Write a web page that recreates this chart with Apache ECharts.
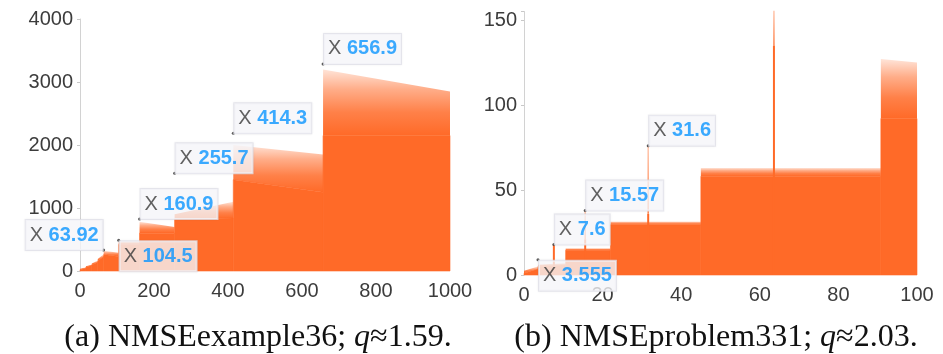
<!DOCTYPE html>
<html>
<head>
<meta charset="utf-8">
<script src="https://cdn.jsdelivr.net/npm/echarts@6/dist/echarts.min.js"></script>
<style>
html,body{margin:0;padding:0;background:#fff;}
#c{width:943px;height:354px;}
</style>
</head>
<body>
<div id="c"></div>
<script>
// ---- data ----
// segments: [xStart, xEnd, denseTopStart, denseTopEnd, sparseTopStart, sparseTopEnd]
const segA = [
  [0, 16, 20, 45, 35, 60],
  [16, 32, 60, 90, 75, 105],
  [32, 48, 100, 140, 120, 165],
  [48, 64, 160, 230, 190, 265],
  [64, 104.5, 260, 230, 320, 290],
  [104.5, 160.9, 420, 420, 470, 470],
  [160.9, 255.7, 600, 600, 780, 700],
  [255.7, 414.3, 830, 840, 900, 1100],
  [414.3, 656.9, 1450, 1250, 2000, 1850],
  [656.9, 1000, 2150, 2150, 3200, 2850]
];
const segB = [
  [0, 3.555, 1, 3.5, 2.5, 5],
  [3.555, 10.6, 5, 6, 6, 7],
  [10.6, 22, 14.5, 14.5, 15.8, 15.8],
  [22, 45, 29.5, 29.5, 31.5, 31.5],
  [45, 90.8, 58, 58, 63, 63],
  [90.8, 100, 92, 92, 127, 125]
];
// spikes: [x, denseTop, maxTop]
const spikesB = [
  [7.6, 18, 18],
  [15.57, 21, 38],
  [31.6, 36, 76],
  [63.6, 135, 155.5]
];
// data tips: x value, y value
const tipsAX = [63.92, 104.5, 160.9, 255.7, 414.3, 656.9];
const tipsAY = [333, 490, 825, 1550, 2185, 3286];
const tipsBX = [3.555, 7.6, 15.57, 31.6, 63.6];
const tipsBY = [8.9, 18, 38, 76, 155.5];
const tipsASide = ['ul', 'dr', 'ur', 'ur', 'ur', 'ur'];
const tipsBSide = ['dr', 'ur', 'ur', 'ur', 'dr'];
const xTicksA = [0, 1000, 200];
const yTicksA = [0, 4000, 1000];
const xTicksB = [0, 100, 20];
const yTicksB = [0, 155, 50];
const captions = ['(a) NMSEexample36; {i|q}≈1.59.', '(b) NMSEproblem331; {i|q}≈2.03.'];

// ---- styling ----
const ORANGE = '#ff6a28';
const chart = echarts.init(document.getElementById('c'), null, {renderer: 'canvas'});

function fringeFill() {
  return new echarts.graphic.LinearGradient(0, 0, 0, 1, [
    {offset: 0, color: 'rgba(255,106,40,0.18)'},
    {offset: 0.3, color: 'rgba(255,106,40,0.55)'},
    {offset: 0.65, color: 'rgba(255,106,40,0.85)'},
    {offset: 1, color: 'rgba(255,106,40,1)'}
  ]);
}

function renderSeg(params, api) {
  const x0 = api.value(0), x1 = api.value(1);
  const cL = api.value(2), cR = api.value(3), tL = api.value(4), tR = api.value(5);
  const b0 = api.coord([x0, 0]), b1 = api.coord([x1, 0]);
  const c0 = api.coord([x0, cL]), c1 = api.coord([x1, cR]);
  const t0 = api.coord([x0, tL]), t1 = api.coord([x1, tR]);
  return {
    type: 'group',
    children: [
      {type: 'polygon', shape: {points: [t0, t1, c1, c0]}, style: {fill: fringeFill()}},
      {type: 'polygon', shape: {points: [c0, c1, b1, b0]}, style: {fill: ORANGE, stroke: ORANGE, lineWidth: 0.6}}
    ]
  };
}

function renderSpike(params, api) {
  const x = api.value(0), d = api.value(1), m = api.value(2);
  const b = api.coord([x, 0]), pd = api.coord([x, d]), pm = api.coord([x, m]);
  const children = [
    {type: 'rect', shape: {x: b[0] - 1, y: pd[1], width: 2, height: b[1] - pd[1]}, style: {fill: ORANGE}}
  ];
  if (m > d) {
    children.push({
      type: 'rect', shape: {x: pd[0] - 0.7, y: pm[1], width: 1.4, height: pd[1] - pm[1]},
      style: {fill: new echarts.graphic.LinearGradient(0, 0, 0, 1, [
        {offset: 0, color: 'rgba(255,106,40,0.4)'},
        {offset: 1, color: 'rgba(255,106,40,0.9)'}
      ])}
    });
  }
  return {type: 'group', children: children};
}

function tipLabel(side) {
  const base = {
    show: true,
    formatter: p => '{x|X }{v|' + p.value[0] + '}',
    backgroundColor: 'rgba(248,248,252,0.96)',
    borderColor: '#e4e4ec',
    borderWidth: 1,
    padding: [5, 4, 5, 4],
    shadowColor: 'rgba(0,0,0,0.06)',
    shadowBlur: 2,
    rich: {
      x: {color: '#3a3a3a', fontSize: 20, fontFamily: 'Liberation Sans', lineHeight: 20},
      v: {color: '#0a95ff', fontSize: 20, fontWeight: 'bold', fontFamily: 'Liberation Sans', lineHeight: 20}
    }
  };
  if (side === 'ur') { base.position = [2.5, 1.5]; base.align = 'left'; base.verticalAlign = 'bottom'; }
  if (side === 'dr') { base.position = [2.5, 2.5]; base.align = 'left'; base.verticalAlign = 'top'; }
  if (side === 'ul') { base.position = [0.5, 1.5]; base.align = 'right'; base.verticalAlign = 'bottom'; }
  return base;
}

function tipData(xs, ys, sides) {
  return xs.map((x, i) => ({value: [x, ys[i]], label: tipLabel(sides[i])}));
}

const axisLabelStyle = {color: '#3c3c3c', fontSize: 20, fontFamily: 'Liberation Sans'};

function yAxisCfg(grid, t) {
  return {
    type: 'value', gridIndex: grid, min: t[0], max: t[1], interval: t[2],
    splitLine: {show: false},
    axisLine: {show: true, lineStyle: {color: '#d2d2d2', width: 1}},
    axisTick: {show: true, length: 3, lineStyle: {color: '#c8c8c8'}},
    axisLabel: Object.assign({
      margin: 7,
      formatter: v => (v % t[2] === 0 ? String(v) : '')
    }, axisLabelStyle)
  };
}
function xAxisCfg(grid, t) {
  return {
    type: 'value', gridIndex: grid, min: t[0], max: t[1], interval: t[2],
    splitLine: {show: false},
    axisLine: {show: false},
    axisTick: {show: false},
    axisLabel: Object.assign({margin: 10, formatter: v => String(v)}, axisLabelStyle)
  };
}

const option = {
  animation: false,
  backgroundColor: '#fff',
  grid: [
    {left: 80, top: 19, width: 370, height: 252},
    {left: 524, top: 11.5, width: 393, height: 263.5}
  ],
  xAxis: [xAxisCfg(0, xTicksA), xAxisCfg(1, xTicksB)],
  yAxis: [yAxisCfg(0, yTicksA), yAxisCfg(1, yTicksB)],
  series: [
    {type: 'custom', xAxisIndex: 0, yAxisIndex: 0, renderItem: renderSeg, data: segA, z: 2},
    {type: 'custom', xAxisIndex: 1, yAxisIndex: 1, renderItem: renderSeg, data: segB, z: 2},
    {type: 'custom', xAxisIndex: 1, yAxisIndex: 1, renderItem: renderSpike, data: spikesB, z: 3},
    {type: 'scatter', xAxisIndex: 0, yAxisIndex: 0, symbolSize: 3, itemStyle: {color: '#333'},
     data: tipData(tipsAX, tipsAY, tipsASide), z: 10},
    {type: 'scatter', xAxisIndex: 1, yAxisIndex: 1, symbolSize: 3, itemStyle: {color: '#333'},
     data: tipData(tipsBX, tipsBY, tipsBSide), z: 10}
  ],
  graphic: captions.map((c, i) => ({
    type: 'text',
    x: i === 0 ? 258 : 716,
    y: 338,
    style: {
      text: c,
      fontFamily: 'Liberation Serif',
      fontSize: 32,
      fill: '#111',
      textAlign: 'center',
      textVerticalAlign: 'middle',
      rich: {i: {fontStyle: 'italic', fontFamily: 'Liberation Serif', fontSize: 32, fill: '#111'}}
    }
  }))
};
chart.setOption(option);
</script>
</body>
</html>
